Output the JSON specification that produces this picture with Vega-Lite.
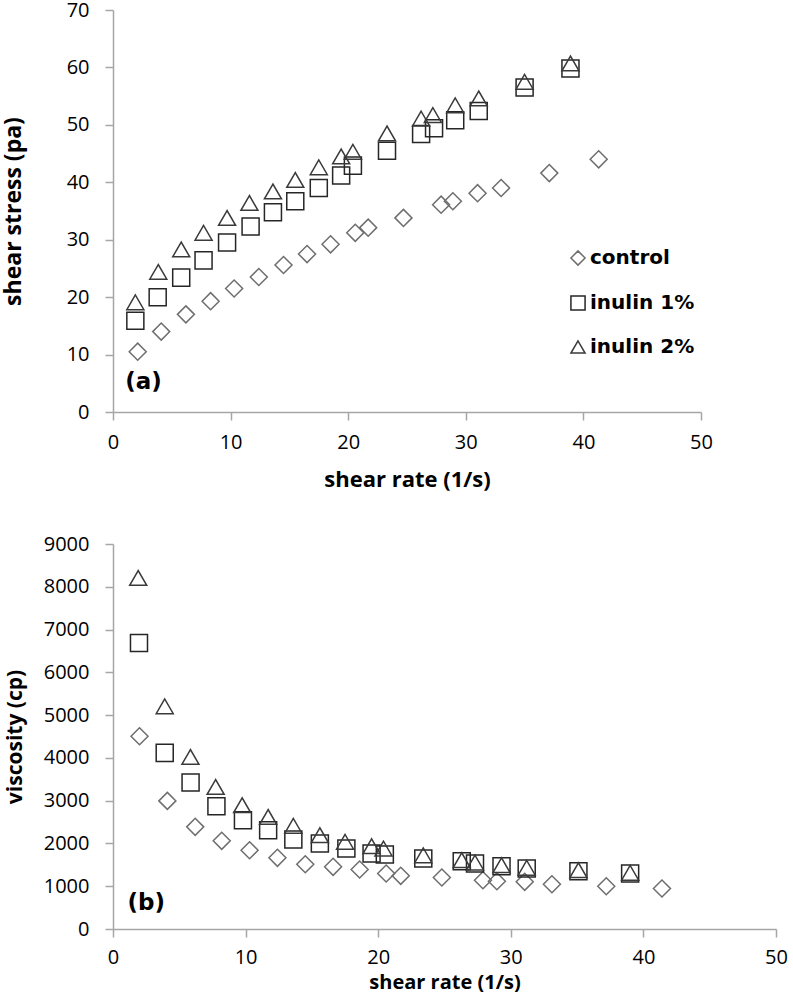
{
  "$schema": "https://vega.github.io/schema/vega-lite/v6.json",
  "background": "white",
  "padding": {"left": 2, "top": 0, "right": 5, "bottom": 0},
  "spacing": 44,
  "config": {
    "view": {"stroke": null},
    "axis": {
      "grid": false,
      "domainColor": "#a6a6a6",
      "domainWidth": 1.5,
      "tickColor": "#a6a6a6",
      "tickWidth": 1.5,
      "tickSize": 8,
      "labelFont": "Open Sans",
      "labelFontSize": 20,
      "labelColor": "black",
      "labelFlush": false,
      "labelOverlap": false,
      "titleFont": "Open Sans",
      "titleFontWeight": "bold",
      "titleColor": "black"
    }
  },
  "datasets": {
    "stress": [
      {"series": "control", "rate": 2.1, "value": 10.5},
      {"series": "control", "rate": 4.1, "value": 14.0},
      {"series": "control", "rate": 6.2, "value": 17.0},
      {"series": "control", "rate": 8.3, "value": 19.3},
      {"series": "control", "rate": 10.3, "value": 21.5},
      {"series": "control", "rate": 12.4, "value": 23.5},
      {"series": "control", "rate": 14.5, "value": 25.6},
      {"series": "control", "rate": 16.5, "value": 27.5},
      {"series": "control", "rate": 18.5, "value": 29.2},
      {"series": "control", "rate": 20.6, "value": 31.2},
      {"series": "control", "rate": 21.7, "value": 32.1},
      {"series": "control", "rate": 24.7, "value": 33.8},
      {"series": "control", "rate": 27.9, "value": 36.1},
      {"series": "control", "rate": 28.9, "value": 36.7},
      {"series": "control", "rate": 31.0, "value": 38.1},
      {"series": "control", "rate": 33.0, "value": 39.0},
      {"series": "control", "rate": 37.1, "value": 41.6},
      {"series": "control", "rate": 41.3, "value": 44.0},
      {"series": "inulin 1%", "rate": 1.9, "value": 15.9},
      {"series": "inulin 1%", "rate": 3.8, "value": 20.0},
      {"series": "inulin 1%", "rate": 5.8, "value": 23.4},
      {"series": "inulin 1%", "rate": 7.7, "value": 26.4},
      {"series": "inulin 1%", "rate": 9.7, "value": 29.5},
      {"series": "inulin 1%", "rate": 11.7, "value": 32.3},
      {"series": "inulin 1%", "rate": 13.6, "value": 34.8},
      {"series": "inulin 1%", "rate": 15.5, "value": 36.7},
      {"series": "inulin 1%", "rate": 17.5, "value": 39.0},
      {"series": "inulin 1%", "rate": 19.4, "value": 41.2},
      {"series": "inulin 1%", "rate": 20.4, "value": 42.9},
      {"series": "inulin 1%", "rate": 23.3, "value": 45.5},
      {"series": "inulin 1%", "rate": 26.2, "value": 48.4},
      {"series": "inulin 1%", "rate": 27.3, "value": 49.4},
      {"series": "inulin 1%", "rate": 29.1, "value": 50.8},
      {"series": "inulin 1%", "rate": 31.1, "value": 52.4},
      {"series": "inulin 1%", "rate": 35.0, "value": 56.5},
      {"series": "inulin 1%", "rate": 38.9, "value": 59.8},
      {"series": "inulin 2%", "rate": 1.9, "value": 19.1},
      {"series": "inulin 2%", "rate": 3.85, "value": 24.4},
      {"series": "inulin 2%", "rate": 5.8, "value": 28.3},
      {"series": "inulin 2%", "rate": 7.7, "value": 31.2},
      {"series": "inulin 2%", "rate": 9.7, "value": 33.8},
      {"series": "inulin 2%", "rate": 11.6, "value": 36.4},
      {"series": "inulin 2%", "rate": 13.6, "value": 38.4},
      {"series": "inulin 2%", "rate": 15.5, "value": 40.4},
      {"series": "inulin 2%", "rate": 17.5, "value": 42.6},
      {"series": "inulin 2%", "rate": 19.4, "value": 44.5},
      {"series": "inulin 2%", "rate": 20.4, "value": 45.3},
      {"series": "inulin 2%", "rate": 23.3, "value": 48.5},
      {"series": "inulin 2%", "rate": 26.2, "value": 51.1},
      {"series": "inulin 2%", "rate": 27.2, "value": 51.7},
      {"series": "inulin 2%", "rate": 29.1, "value": 53.4},
      {"series": "inulin 2%", "rate": 31.1, "value": 54.6},
      {"series": "inulin 2%", "rate": 35.0, "value": 57.5},
      {"series": "inulin 2%", "rate": 38.9, "value": 60.7}
    ],
    "visc": [
      {"series": "control", "rate": 2.0, "value": 4505},
      {"series": "control", "rate": 4.1, "value": 2995},
      {"series": "control", "rate": 6.2, "value": 2388},
      {"series": "control", "rate": 8.2, "value": 2061},
      {"series": "control", "rate": 10.3, "value": 1841},
      {"series": "control", "rate": 12.4, "value": 1664},
      {"series": "control", "rate": 14.5, "value": 1514},
      {"series": "control", "rate": 16.6, "value": 1453},
      {"series": "control", "rate": 18.6, "value": 1390},
      {"series": "control", "rate": 20.6, "value": 1297},
      {"series": "control", "rate": 21.7, "value": 1243},
      {"series": "control", "rate": 24.8, "value": 1203},
      {"series": "control", "rate": 27.9, "value": 1140},
      {"series": "control", "rate": 28.95, "value": 1117},
      {"series": "control", "rate": 31.05, "value": 1103},
      {"series": "control", "rate": 33.1, "value": 1047},
      {"series": "control", "rate": 37.2, "value": 1000},
      {"series": "control", "rate": 41.4, "value": 946},
      {"series": "inulin 1%", "rate": 1.96, "value": 6687},
      {"series": "inulin 1%", "rate": 3.9, "value": 4117},
      {"series": "inulin 1%", "rate": 5.85, "value": 3423},
      {"series": "inulin 1%", "rate": 7.8, "value": 2869},
      {"series": "inulin 1%", "rate": 9.8, "value": 2542},
      {"series": "inulin 1%", "rate": 11.7, "value": 2308},
      {"series": "inulin 1%", "rate": 13.6, "value": 2091},
      {"series": "inulin 1%", "rate": 15.6, "value": 1998},
      {"series": "inulin 1%", "rate": 17.6, "value": 1881},
      {"series": "inulin 1%", "rate": 19.5, "value": 1764},
      {"series": "inulin 1%", "rate": 20.5, "value": 1741},
      {"series": "inulin 1%", "rate": 23.4, "value": 1647},
      {"series": "inulin 1%", "rate": 26.3, "value": 1584},
      {"series": "inulin 1%", "rate": 27.3, "value": 1530},
      {"series": "inulin 1%", "rate": 29.3, "value": 1467},
      {"series": "inulin 1%", "rate": 31.2, "value": 1413},
      {"series": "inulin 1%", "rate": 35.1, "value": 1350},
      {"series": "inulin 1%", "rate": 39.0, "value": 1297},
      {"series": "inulin 2%", "rate": 1.9, "value": 8206},
      {"series": "inulin 2%", "rate": 3.9, "value": 5206},
      {"series": "inulin 2%", "rate": 5.84, "value": 4023},
      {"series": "inulin 2%", "rate": 7.74, "value": 3322},
      {"series": "inulin 2%", "rate": 9.74, "value": 2893},
      {"series": "inulin 2%", "rate": 11.7, "value": 2621},
      {"series": "inulin 2%", "rate": 13.6, "value": 2411},
      {"series": "inulin 2%", "rate": 15.6, "value": 2192},
      {"series": "inulin 2%", "rate": 17.5, "value": 2037},
      {"series": "inulin 2%", "rate": 19.5, "value": 1935},
      {"series": "inulin 2%", "rate": 20.4, "value": 1881},
      {"series": "inulin 2%", "rate": 23.4, "value": 1724},
      {"series": "inulin 2%", "rate": 26.3, "value": 1608},
      {"series": "inulin 2%", "rate": 27.3, "value": 1554},
      {"series": "inulin 2%", "rate": 29.3, "value": 1491},
      {"series": "inulin 2%", "rate": 31.2, "value": 1430},
      {"series": "inulin 2%", "rate": 35.1, "value": 1374},
      {"series": "inulin 2%", "rate": 39.0, "value": 1313}
    ]
  },
  "resolve": {"legend": {"shape": "independent", "color": "independent"}},
  "vconcat": [
    {
      "width": 588,
      "height": 402,
      "layer": [
        {
          "data": {"name": "stress"},
          "mark": {"type": "point", "filled": false, "size": 290, "strokeWidth": 1.5, "opacity": 1},
          "encoding": {
            "x": {"field": "rate", "type": "quantitative", "scale": {"domain": [0, 50], "nice": false},
                  "axis": {"values": [0, 10, 20, 30, 40, 50], "title": "shear rate (1/s)", "titleFontSize": 22, "labelPadding": 12, "titlePadding": 17}},
            "y": {"field": "value", "type": "quantitative", "scale": {"domain": [0, 70], "nice": false},
                  "axis": {"values": [0, 10, 20, 30, 40, 50, 60, 70], "title": "shear stress (pa)", "titleFontSize": 23, "labelPadding": 16, "titlePadding": 41}},
            "shape": {"field": "series", "type": "nominal",
                      "scale": {"domain": ["control", "inulin 1%", "inulin 2%"], "range": ["diamond", "square", "triangle-up"]},
                      "legend": {"title": null, "orient": "none", "legendX": 455, "legendY": 238, "padding": 0, "symbolSize": 200, "symbolStrokeWidth": 1.5, "labelFont": "DejaVu Sans", "labelFontSize": 20, "labelFontWeight": "bold", "labelColor": "black", "rowPadding": 23, "labelOffset": 2}},
            "color": {"field": "series", "type": "nominal",
                      "scale": {"domain": ["control", "inulin 1%", "inulin 2%"], "range": ["#6e6e6e", "#262626", "#3a3a3a"]},
                      "legend": {"title": null, "orient": "none", "legendX": 455, "legendY": 238, "padding": 0, "symbolSize": 200, "symbolStrokeWidth": 1.5, "labelFont": "DejaVu Sans", "labelFontSize": 20, "labelFontWeight": "bold", "labelColor": "black", "rowPadding": 23, "labelOffset": 2}}
          }
        },
        {
          "data": {"values": [{"label": "(a)"}]},
          "mark": {"type": "text", "font": "DejaVu Sans", "fontSize": 23, "fontWeight": "bold", "align": "center", "baseline": "middle", "color": "black"},
          "encoding": {
            "text": {"field": "label"},
            "x": {"datum": 2.6, "type": "quantitative"},
            "y": {"datum": 5.2, "type": "quantitative"}
          }
        }
      ]
    },
    {
      "width": 663,
      "height": 385,
      "layer": [
        {
          "data": {"name": "visc"},
          "mark": {"type": "point", "filled": false, "size": 290, "strokeWidth": 1.5, "opacity": 1},
          "encoding": {
            "x": {"field": "rate", "type": "quantitative", "scale": {"domain": [0, 50], "nice": false},
                  "axis": {"values": [0, 10, 20, 30, 40, 50], "title": "shear rate (1/s)", "titleFontSize": 20, "labelPadding": 10, "titlePadding": 5}},
            "y": {"field": "value", "type": "quantitative", "scale": {"domain": [0, 9000], "nice": false},
                  "axis": {"values": [0, 1000, 2000, 3000, 4000, 5000, 6000, 7000, 8000, 9000], "format": "d", "title": "viscosity (cp)", "titleFontSize": 21, "labelPadding": 16, "titlePadding": 18}},
            "shape": {"field": "series", "type": "nominal",
                      "scale": {"domain": ["control", "inulin 1%", "inulin 2%"], "range": ["diamond", "square", "triangle-up"]},
                      "legend": null},
            "color": {"field": "series", "type": "nominal",
                      "scale": {"domain": ["control", "inulin 1%", "inulin 2%"], "range": ["#6e6e6e", "#262626", "#3a3a3a"]},
                      "legend": null}
          }
        },
        {
          "data": {"values": [{"label": "(b)"}]},
          "mark": {"type": "text", "font": "DejaVu Sans", "fontSize": 23, "fontWeight": "bold", "align": "center", "baseline": "middle", "color": "black"},
          "encoding": {
            "text": {"field": "label"},
            "x": {"datum": 2.5, "type": "quantitative"},
            "y": {"datum": 600, "type": "quantitative"}
          }
        }
      ]
    }
  ]
}
